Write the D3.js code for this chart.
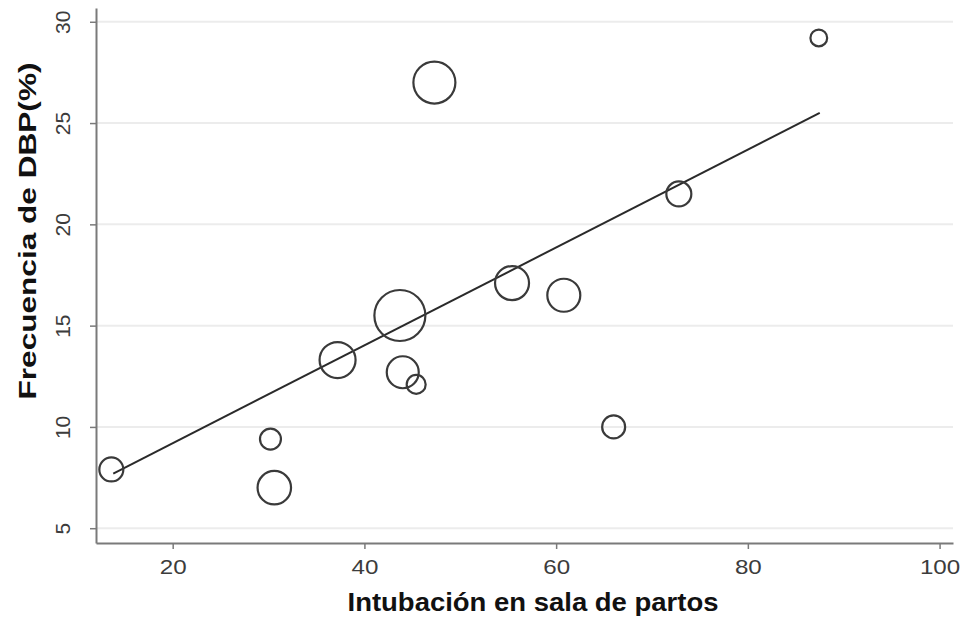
<!DOCTYPE html>
<html>
<head>
<meta charset="utf-8">
<script src="https://cdn.jsdelivr.net/npm/d3@7"></script>
<style>
  body { margin: 0; background: #fff; }
  svg { display: block; font-family: "Liberation Sans", Arial, sans-serif; }
</style>
</head>
<body>
<svg id="chart" width="961" height="621"></svg>
<script>
// data
var intubacion = [13.6, 30.2, 30.6, 37.2, 43.7, 44.0, 45.4, 47.3, 55.4, 60.8, 66.0, 72.8, 87.4];
var dbp        = [7.9, 9.4, 7.0, 13.3, 15.5, 12.7, 12.1, 27.0, 17.1, 16.5, 10.0, 21.5, 29.2];
var pesos      = [144, 110, 280, 324, 650, 256, 90, 441, 289, 272, 132, 156, 70];
var ajusteX = [13.8, 87.5];
var ajusteY = [7.7, 25.5];
var xTicks = [20, 40, 60, 80, 100];
var yTicks = [5, 10, 15, 20, 25, 30];

var svg = d3.select("#chart");

// scales
var x = d3.scaleLinear().domain([12.0, 101.4]).range([96, 953]);
var y = d3.scaleLinear().domain([4.27, 30.68]).range([543, 8]);
var r = d3.scaleSqrt().domain([0, d3.max(pesos)]).range([0, 25.5]);

// horizontal grid
svg.append("g")
  .selectAll("line")
  .data(yTicks)
  .join("line")
    .attr("x1", 97).attr("x2", 953)
    .attr("y1", d => y(d)).attr("y2", d => y(d))
    .attr("stroke", "#ececec")
    .attr("stroke-width", 2);

// x axis
var gx = svg.append("g")
  .attr("transform", "translate(0,543)")
  .call(d3.axisBottom(x).tickValues(xTicks).tickSize(6).tickSizeOuter(0).tickPadding(10));
gx.attr("font-size", 21).attr("font-family", null);
gx.select(".domain").attr("stroke", "#7a7a7a").attr("stroke-width", 2);
gx.selectAll(".tick line").attr("stroke", "#7a7a7a").attr("stroke-width", 1.5);
gx.selectAll(".tick text")
  .attr("fill", "#3c3c3c")
  .attr("textLength", function() { return this.getComputedTextLength() * 1.15; })
  .attr("lengthAdjust", "spacingAndGlyphs");

// y axis
var gy = svg.append("g")
  .attr("transform", "translate(96,0)")
  .call(d3.axisLeft(y).tickValues(yTicks).tickSize(6).tickSizeOuter(0));
gy.attr("font-size", 21).attr("font-family", null);
gy.select(".domain").attr("stroke", "#7a7a7a").attr("stroke-width", 2);
gy.selectAll(".tick line").attr("stroke", "#7a7a7a").attr("stroke-width", 1.5);
gy.selectAll(".tick text")
  .attr("fill", "#3c3c3c")
  .attr("x", null)
  .attr("text-anchor", "middle")
  .attr("transform", "translate(-33,0) rotate(-90)")
  .attr("dy", "0.35em");

// fitted line
svg.append("line")
  .attr("x1", x(ajusteX[0])).attr("y1", y(ajusteY[0]))
  .attr("x2", x(ajusteX[1])).attr("y2", y(ajusteY[1]))
  .attr("stroke", "#2a2a2a")
  .attr("stroke-width", 2);

// bubbles
svg.append("g")
  .selectAll("circle")
  .data(intubacion)
  .join("circle")
    .attr("cx", d => x(d))
    .attr("cy", (d, i) => y(dbp[i]))
    .attr("r", (d, i) => r(pesos[i]))
    .attr("fill", "none")
    .attr("stroke", "#3a3a3a")
    .attr("stroke-width", 2.2);

// axis titles
svg.append("text")
  .attr("x", 533).attr("y", 611)
  .attr("text-anchor", "middle")
  .attr("textLength", 371).attr("lengthAdjust", "spacingAndGlyphs")
  .style("font-size", "25px").style("font-weight", "bold")
  .attr("fill", "#111")
  .text("Intubación en sala de partos");

svg.append("text")
  .attr("transform", "translate(36,231) rotate(-90)")
  .attr("text-anchor", "middle")
  .attr("textLength", 337).attr("lengthAdjust", "spacingAndGlyphs")
  .style("font-size", "24px").style("font-weight", "bold")
  .attr("fill", "#111")
  .text("Frecuencia de DBP(%)");
</script>
</body>
</html>
